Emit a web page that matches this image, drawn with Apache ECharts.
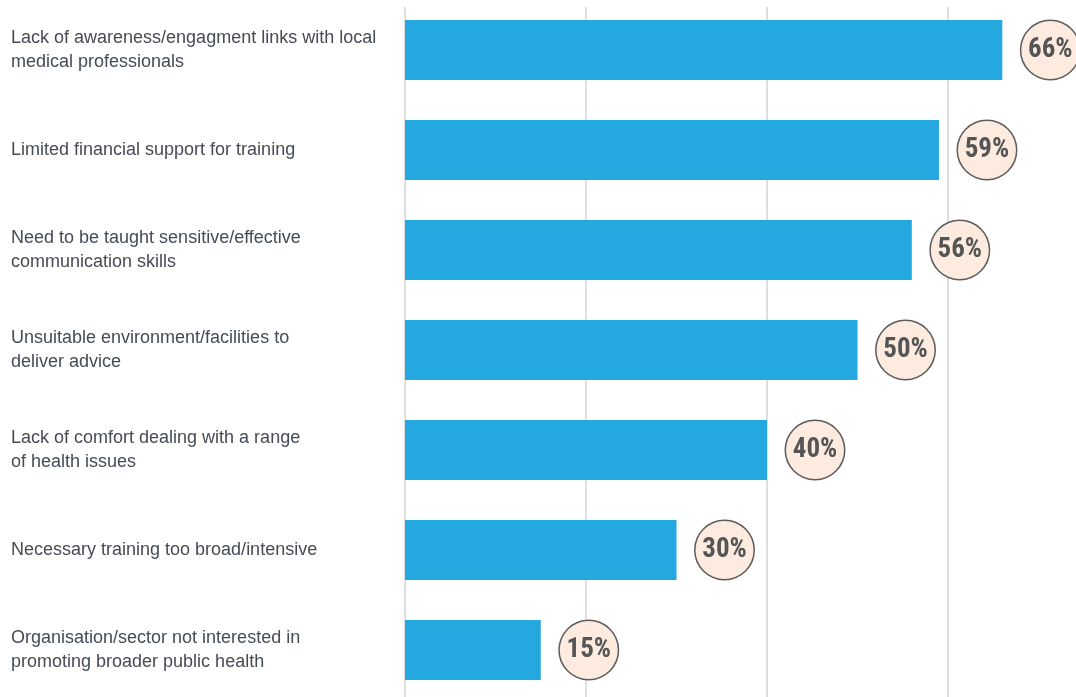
<!DOCTYPE html>
<html><head><meta charset="utf-8">
<script src="https://cdn.jsdelivr.net/npm/echarts@6/dist/echarts.min.js"></script>
<style>html,body{margin:0;padding:0;background:#fff}#c{width:1076px;height:697px}</style>
</head><body><div id="c"></div>
<script>
const categories = [
  "Lack of awareness/engagment links with local\nmedical professionals",
  "Limited financial support for training",
  "Need to be taught sensitive/effective\ncommunication skills",
  "Unsuitable environment/facilities to\ndeliver advice",
  "Lack of comfort dealing with a range\nof health issues",
  "Necessary training too broad/intensive",
  "Organisation/sector not interested in\npromoting broader public health"
];
const values = [66, 59, 56, 50, 40, 30, 15];
const axisTicks = [0, 20, 40, 60, 80];

const chart = echarts.init(document.getElementById('c'), null, {renderer: 'canvas'});
chart.setOption({
  animation: false,
  grid: {left: 405, top: 0, width: 724, height: 700, containLabel: false, outerBoundsMode: 'none'},
  xAxis: {
    type: 'value', min: axisTicks[0], max: axisTicks[axisTicks.length - 1], interval: 20,
    axisLabel: {show: false}, axisLine: {show: false}, axisTick: {show: false},
    splitLine: {show: true, lineStyle: {color: '#d4d4d4', width: 1.5}}
  },
  yAxis: {
    type: 'category', data: categories, inverse: true,
    axisLine: {show: false}, axisTick: {show: false},
    axisLabel: {
      align: 'left', margin: 394, color: '#454c55', fontSize: 18,
      fontFamily: "'Liberation Sans', Arial, sans-serif", lineHeight: 24,
      padding: [0, 0, 3, 0]
    }
  },
  series: [{
    type: 'bar', data: values, barWidth: 60,
    itemStyle: {color: '#24a8e0'},
    label: {
      show: true, position: 'right', distance: 48,
      formatter: '{c}%',
      width: 58, height: 58, lineHeight: 58, align: 'center',
      borderRadius: 29, backgroundColor: '#fdebdf',
      borderColor: '#5e5e5e', borderWidth: 1.5,
      color: '#555555', fontWeight: 'bold', fontSize: 27,
      fontFamily: "'Roboto Condensed', 'Liberation Sans', sans-serif"
    }
  }],
  graphic: [{
    type: 'rect', shape: {x: 398, y: 0, width: 700, height: 7},
    style: {fill: '#ffffff'}, z: 1
  }]
});
</script></body></html>
